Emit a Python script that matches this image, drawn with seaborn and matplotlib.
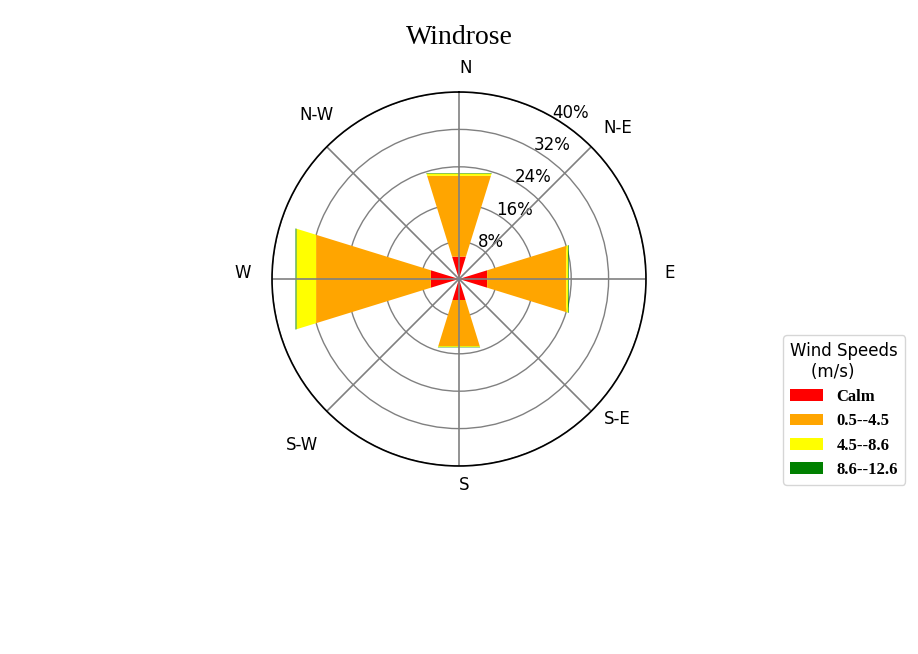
import numpy as np
import pandas as pd
import seaborn as sns
import matplotlib.pyplot as plt
from matplotlib.patches import Patch
from matplotlib.transforms import ScaledTranslation

# Data (percent of time per direction, stacked by speed class)
directions = ["N", "N-E", "E", "S-E", "S", "S-W", "W", "N-W"]
speed_classes = ["Calm", "0.5--4.5", "4.5--8.6", "8.6--12.6"]
calm = [5.0, 0.0, 6.3, 0.0, 4.7, 0.0, 6.3, 0.0]
low = [18.1, 0.0, 17.7, 0.0, 10.3, 0.0, 25.7, 0.0]
mid = [0.5, 0.0, 0.4, 0.0, 0.2, 0.0, 4.4, 0.0]
high = [0.1, 0.0, 0.15, 0.0, 0.1, 0.0, 0.2, 0.0]
r_ticks = [8, 16, 24, 32, 40]

# label offsets (pixels) from the outer ring for each direction label
label_offsets = [(7, 24), (27, 19), (24, 6), (26, -8), (5, -19), (-25, -34), (-29, 6), (-10, 32)]

colors = sns.color_palette(["red", "orange", "yellow", "green"])

df = pd.DataFrame({"dir": directions, "Calm": calm, "0.5--4.5": low,
                   "4.5--8.6": mid, "8.6--12.6": high})
theta = np.deg2rad(np.arange(0, 360, 45))

fig = plt.figure(figsize=(9.18, 6.54), dpi=100)
ax = fig.add_axes([272 / 918, 1 - 466 / 654, 374 / 918, 374 / 654], projection="polar")
ax.set_theta_zero_location("N")
ax.set_theta_direction(-1)

bottom = np.zeros(len(directions))
for name, c in zip(speed_classes, colors):
    vals = df[name].to_numpy()
    bars = ax.bar(theta, vals, width=0.6, bottom=bottom, color=c, linewidth=0, zorder=1)
    for b in bars:
        b.get_path()._interpolation_steps = 1
    bottom += vals

ax.set_ylim(0, 40)
ax.set_yticks(r_ticks)
ax.set_yticklabels([f"{t}%" for t in r_ticks], fontsize=12)
ax.set_xticks(theta)
ax.set_xticklabels([])
ax.set_rlabel_position(30)
ax.xaxis.grid(True, color="gray", linewidth=1.2)
ax.yaxis.grid(True, color="gray", linewidth=1.0)
ax.yaxis.set_zorder(0.5)
ax.xaxis.set_zorder(2)
ax.spines["polar"].set_color("black")
ax.spines["polar"].set_linewidth(1.2)

shift = ScaledTranslation(0, -4.5 / 100, fig.dpi_scale_trans)
for lab in ax.get_yticklabels():
    lab.set_transform(lab.get_transform() + shift)

for t, name, off in zip(theta, directions, label_offsets):
    ax.annotate(name, xy=(t, 40), xytext=off, textcoords="offset pixels",
                ha="center", va="center", fontsize=12, annotation_clip=False)

fig.text(459 / 918, 1 - 37 / 654, "Windrose", ha="center", va="center",
         fontsize=20, family="Liberation Serif")

handles = [Patch(facecolor=c, label=l) for c, l in zip(colors, speed_classes)]
leg = fig.legend(handles=handles, title="Wind Speeds\n    (m/s)", loc="upper left",
                 bbox_to_anchor=(775 / 918, 1 - 327 / 654),
                 prop={"family": "Liberation Serif", "weight": "bold", "size": 12})
leg.get_title().set_fontsize(12)
leg.get_title().set_ha("left")

fig.savefig("out.png", dpi=100)
